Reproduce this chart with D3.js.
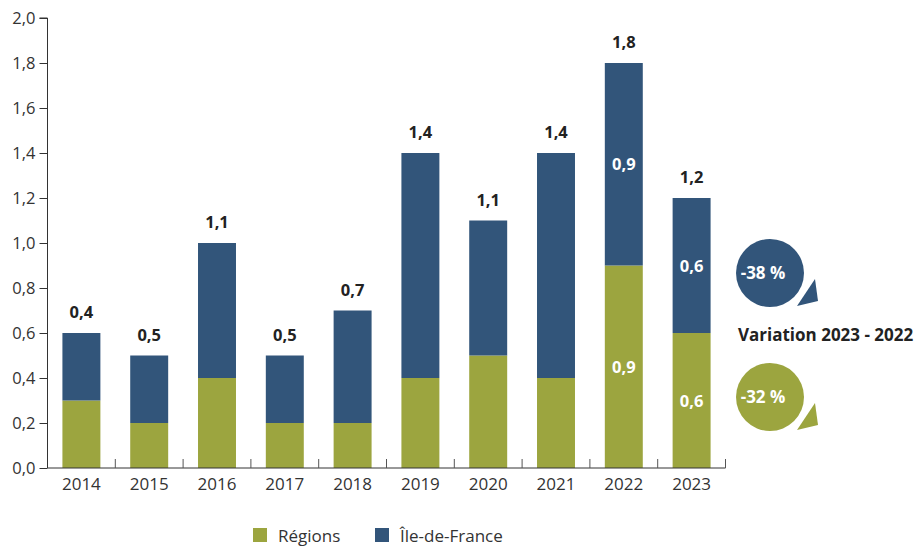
<!DOCTYPE html>
<html><head><meta charset="utf-8">
<script src="https://cdn.jsdelivr.net/npm/d3@7/dist/d3.min.js"></script>
<style>body{margin:0;background:#fff;} text{font-family:"Open Sans",sans-serif;}</style>
</head><body>
<svg id="c" width="918" height="548"></svg>
<script>
const years = ["2014","2015","2016","2017","2018","2019","2020","2021","2022","2023"];
const regions = [0.3,0.2,0.4,0.2,0.2,0.4,0.5,0.4,0.9,0.6];
const idf = [0.3,0.3,0.6,0.3,0.5,1.0,0.6,1.0,0.9,0.6];
const totalLabels = [0.4,0.5,1.1,0.5,0.7,1.4,1.1,1.4,1.8,1.2];
const innerLabelYears = ["2022","2023"];
const yTicks = [0,0.2,0.4,0.6,0.8,1.0,1.2,1.4,1.6,1.8,2.0];
const seriesNames = ["Régions","Île-de-France"];
const variations = ["-38 %","-32 %"];
const variationTitle = "Variation 2023 - 2022";

const colGreen = "#9ca53f", colBlue = "#32557a", txt = "#222";
const fmt = v => d3.format(".1f")(v).replace(".", ",");

const svg = d3.select("#c");
const m = {l:47.5, r:725.5, t:18, b:468};
const x = d3.scaleBand().domain(years).range([m.l, m.r]).paddingInner(0.44).paddingOuter(0.22);
const y = d3.scaleLinear().domain([0,2]).range([m.b, m.t]);

// bars
const g = svg.append("g");
years.forEach((yr,i)=>{
  g.append("rect").attr("x",x(yr)).attr("width",x.bandwidth())
    .attr("y",y(regions[i])).attr("height",y(0)-y(regions[i])).attr("fill",colGreen);
  g.append("rect").attr("x",x(yr)).attr("width",x.bandwidth())
    .attr("y",y(regions[i]+idf[i])).attr("height",y(regions[i])-y(regions[i]+idf[i])).attr("fill",colBlue);
  g.append("text").attr("x",x(yr)+x.bandwidth()/2).attr("y",y(regions[i]+idf[i])-15)
    .attr("text-anchor","middle").attr("font-size",16.5).attr("font-weight",700).attr("fill",txt)
    .text(fmt(totalLabels[i]));
  if(innerLabelYears.includes(yr)){
    g.append("text").attr("x",x(yr)+x.bandwidth()/2).attr("y",y(regions[i]/2)+6)
      .attr("text-anchor","middle").attr("font-size",16.5).attr("font-weight",700).attr("fill","#fff")
      .text(fmt(regions[i]));
    g.append("text").attr("x",x(yr)+x.bandwidth()/2).attr("y",y(regions[i]+idf[i]/2)+6)
      .attr("text-anchor","middle").attr("font-size",16.5).attr("font-weight",700).attr("fill","#fff")
      .text(fmt(idf[i]));
  }
});

// y axis
const ya = svg.append("g").attr("transform",`translate(${m.l},0)`)
  .call(d3.axisLeft(y).tickValues(yTicks).tickFormat(fmt).tickSize(8).tickPadding(4));
ya.select(".domain").attr("stroke","#333").attr("d",`M-8,${m.t}H0V${m.b}`);
ya.selectAll(".tick line").attr("stroke","#333");
ya.selectAll(".tick text").attr("font-size",16.5).attr("fill","#333").attr("font-family","Open Sans");

// x axis
const xa = svg.append("g").attr("transform",`translate(0,${m.b})`)
  .call(d3.axisBottom(x).tickSize(0).tickPadding(10));
xa.select(".domain").attr("stroke","#333").attr("d",`M${m.l},0H${m.r}`);
xa.selectAll(".tick text").attr("font-size",17).attr("fill","#333").attr("font-family","Open Sans").attr("dy","0.71em");
const bounds = d3.range(1, years.length+1).map(k => m.l + k*(m.r-m.l)/years.length);
xa.selectAll("line.sep").data(bounds).enter().append("line").attr("class","sep")
  .attr("x1",d=>d).attr("x2",d=>d).attr("y1",0).attr("y2",-9).attr("stroke","#555");

// legend
const leg = svg.append("g");
[[253,colGreen,seriesNames[0]],[375,colBlue,seriesNames[1]]].forEach(([lx,c,t])=>{
  leg.append("rect").attr("x",lx).attr("y",528).attr("width",14).attr("height",14).attr("fill",c);
  leg.append("text").attr("x",lx+25).attr("y",542).attr("font-size",17).attr("fill","#333").text(t);
});

// variation badges
function badge(cx, cy, color, label){
  const b = svg.append("g");
  b.append("circle").attr("cx",cx).attr("cy",cy).attr("r",34).attr("fill",color);
  b.append("path").attr("d",`M${cx+48},${cy+28}L${cx+27},${cy+33}L${cx+45},${cy+6}Z`).attr("fill",color);
  b.append("text").attr("x",cx-7).attr("y",cy+6).attr("text-anchor","middle").attr("font-size",17)
    .attr("font-weight",700).attr("fill","#fff").text(label);
}
badge(770, 273, colBlue, variations[0]);
badge(770, 397, colGreen, variations[1]);
svg.append("text").attr("x",738).attr("y",341).attr("font-size",17).attr("font-weight",700).attr("fill",txt).text(variationTitle);
</script>
</body></html>
